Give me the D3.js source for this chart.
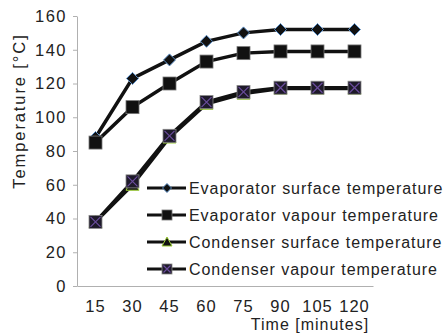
<!DOCTYPE html>
<html>
<head>
<meta charset="utf-8">
<script src="https://cdn.jsdelivr.net/npm/d3@7"></script>
<style>
  body { margin: 0; background: #fff; }
  text { font-family: "Liberation Sans", Arial, sans-serif; }
</style>
</head>
<body>
<svg id="chart" width="446" height="336"></svg>
<script>
const times = ["15", "30", "45", "60", "75", "90", "105", "120"];
const evapSurface = [88, 123, 134, 145, 150, 152, 152, 152];
const evapVapour = [85, 106, 120, 133, 138, 139, 139, 139];
const condSurface = [38, 60, 88, 108, 114, 117, 117, 117];
const condVapour = [38, 62, 89, 109, 115, 117.5, 117.5, 117.5];
const yTicks = [0, 20, 40, 60, 80, 100, 120, 140, 160];

const series = [
    { name: "Evaporator surface temperature", values: evapSurface, marker: "diamond" },
    { name: "Evaporator vapour temperature", values: evapVapour, marker: "square" },
    { name: "Condenser surface temperature", values: condSurface, marker: "triangle" },
    { name: "Condenser vapour temperature", values: condVapour, marker: "cross" }
];

const svg = d3.select('#chart');
const margin = { left: 77, right: 73, top: 16, bottom: 50 };
const width = +svg.attr('width');
const height = +svg.attr('height');

const x = d3.scaleBand()
    .domain(times)
    .range([margin.left, width - margin.right]);

const y = d3.scaleLinear()
    .domain([0, 160])
    .range([height - margin.bottom, margin.top]);

// y axis
const yAxis = svg.append('g')
    .attr('transform', `translate(${margin.left},0)`)
    .call(d3.axisLeft(y).tickValues(yTicks).tickSize(4).tickPadding(6).tickSizeOuter(0));
yAxis.select('.domain').attr('stroke', '#b0b0b0');
yAxis.selectAll('.tick line').attr('stroke', '#b0b0b0');
yAxis.selectAll('.tick text')
    .attr('font-size', 16.5).attr('letter-spacing', 1.5).attr('fill', '#222');

// x axis
const xAxis = svg.append('g')
    .attr('transform', `translate(0,${y(0)})`)
    .call(d3.axisBottom(x).tickSize(0).tickPadding(14).tickSizeOuter(0));
xAxis.select('.domain').attr('stroke', '#b0b0b0');
xAxis.selectAll('.tick text')
    .attr('font-size', 16.5).attr('letter-spacing', 1).attr('fill', '#222');

svg.append('text')
    .attr('transform', `translate(25,111) rotate(-90)`)
    .attr('text-anchor', 'middle')
    .attr('font-size', 16.5)
    .attr('letter-spacing', 1.9)
    .attr('fill', '#222')
    .text('Temperature [°C]');

svg.append('text')
    .attr('x', 310)
    .attr('y', 330)
    .attr('text-anchor', 'middle')
    .attr('font-size', 16)
    .attr('letter-spacing', 1)
    .attr('fill', '#222')
    .text('Time [minutes]');

const cx = (d, i) => x(times[i]) + x.bandwidth() / 2;

function drawMarker(g, type, px, py, r) {
    if (type === "diamond") {
        const h = r - 0.5;
        g.append('path')
            .attr('d', `M${px},${py - h}L${px + h},${py}L${px},${py + h}L${px - h},${py}Z`)
            .attr('fill', '#111').attr('stroke', '#5b8fc7').attr('stroke-width', 1);
    } else if (type === "square") {
        g.append('rect')
            .attr('x', px - r).attr('y', py - r).attr('width', 2 * r).attr('height', 2 * r)
            .attr('fill', '#111').attr('stroke', '#777').attr('stroke-width', 0.8);
    } else if (type === "triangle") {
        g.append('path')
            .attr('d', `M${px},${py - r}L${px + r},${py + r - 1}L${px - r},${py + r - 1}Z`)
            .attr('fill', '#111').attr('stroke', '#9acd32').attr('stroke-width', 1);
    } else {
        g.append('rect')
            .attr('x', px - r).attr('y', py - r).attr('width', 2 * r).attr('height', 2 * r)
            .attr('fill', '#1e1a2a').attr('stroke', '#888').attr('stroke-width', 0.8);
        g.append('path')
            .attr('d', `M${px - r + 1.5},${py - r + 1.5}L${px + r - 1.5},${py + r - 1.5}M${px + r - 1.5},${py - r + 1.5}L${px - r + 1.5},${py + r - 1.5}`)
            .attr('stroke', '#6a4c9c').attr('stroke-width', 1.2);
    }
}

const line = d3.line()
    .x(cx)
    .y(d => y(d));

const plot = svg.append('g');
series.forEach(s => {
    plot.append('path')
        .datum(s.values)
        .attr('fill', 'none')
        .attr('stroke', '#111')
        .attr('stroke-width', 3.5)
        .attr('d', line);
});
series.forEach(s => {
    const g = plot.append('g');
    s.values.forEach((v, i) => drawMarker(g, s.marker, cx(v, i), y(v), 6.5));
});

// legend
const legend = svg.append('g');
legend.append('rect')
    .attr('x', 145).attr('y', 175).attr('width', 301).attr('height', 105)
    .attr('fill', '#fff');
series.forEach((s, i) => {
    const ly = 188 + i * 27;
    legend.append('line')
        .attr('x1', 147).attr('x2', 186).attr('y1', ly).attr('y2', ly)
        .attr('stroke', '#111').attr('stroke-width', 3);
    drawMarker(legend, s.marker, 167, ly, 5);
    legend.append('text')
        .attr('x', 189).attr('y', ly + 6)
        .attr('font-size', 16)
        .attr('letter-spacing', 0.95)
        .attr('fill', '#222')
        .text(s.name);
});
</script>
</body>
</html>
